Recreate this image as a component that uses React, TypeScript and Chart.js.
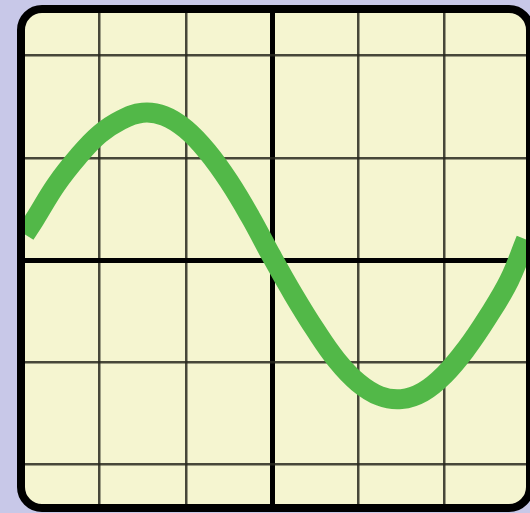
import React, { useEffect, useRef } from "react";
import { Chart, registerables } from "chart.js";

Chart.register(...registerables);

// Wave samples (grid units, center lines at 0)
const waveX = [-2.864, -2.75, -2.5, -2.25, -2.0, -1.75, -1.5, -1.25, -1.0, -0.75, -0.5, -0.25, 0, 0.25, 0.5, 0.75, 1.0, 1.25, 1.5, 1.75, 2.0, 2.25, 2.5, 2.75, 2.945];
const waveY = [0.25, 0.4, 0.74, 1.01, 1.23, 1.37, 1.44, 1.41, 1.28, 1.06, 0.77, 0.42, 0.03, -0.34, -0.68, -0.98, -1.2, -1.33, -1.36, -1.29, -1.12, -0.87, -0.56, -0.2, 0.2];

const gridTicksX = [-2, -1, 0, 1, 2];
const gridTicksY = [-2, -1, 0, 1, 2];

const X_MIN = -2.864;
const X_MAX = 2.945;
const Y_MIN = -2.386;
const Y_MAX = 2.416;

const LAVENDER = "#c8c8e8";
const CREAM = "#f5f5d0";
const GREEN = "#52b848";

function roundRect(ctx: CanvasRenderingContext2D, x: number, y: number, w: number, h: number, r: number) {
  ctx.beginPath();
  ctx.moveTo(x + r, y);
  ctx.lineTo(x + w - r, y);
  ctx.arcTo(x + w, y, x + w, y + r, r);
  ctx.lineTo(x + w, y + h - r);
  ctx.arcTo(x + w, y + h, x + w - r, y + h, r);
  ctx.lineTo(x + r, y + h);
  ctx.arcTo(x, y + h, x, y + h - r, r);
  ctx.lineTo(x, y + r);
  ctx.arcTo(x, y, x + r, y, r);
  ctx.closePath();
}

const framePlugin = {
  id: "frame",
  beforeDraw(chart: any) {
    const { ctx, chartArea: a } = chart;
    ctx.save();
    ctx.fillStyle = LAVENDER;
    ctx.fillRect(0, 0, chart.width, chart.height);
    roundRect(ctx, a.left - 4, a.top - 4, a.right - a.left + 8, a.bottom - a.top + 8, 21);
    ctx.fillStyle = CREAM;
    ctx.fill();
    ctx.restore();
  },
  afterDraw(chart: any) {
    const { ctx, chartArea: a } = chart;
    ctx.save();
    roundRect(ctx, a.left - 4, a.top - 4, a.right - a.left + 8, a.bottom - a.top + 8, 21);
    ctx.lineWidth = 8;
    ctx.strokeStyle = "#000";
    ctx.stroke();
    ctx.restore();
  },
};

export default function App() {
  const ref = useRef<HTMLCanvasElement>(null);
  useEffect(() => {
    if (!ref.current) return;
    const gridLine = (ctx: any) => (ctx.tick && ctx.tick.value === 0 ? 5 : 2.5);
    const gridColor = (ctx: any) => (ctx.tick && ctx.tick.value === 0 ? "#000000" : "rgba(40,40,30,0.85)");
    const chart = new Chart(ref.current, {
      type: "line",
      data: {
        datasets: [
          {
            data: waveX.map((x, i) => ({ x, y: waveY[i] })),
            borderColor: GREEN,
            borderWidth: 20,
            tension: 0.4,
            pointRadius: 0,
            fill: false,
            borderCapStyle: "butt",
          },
        ],
      },
      options: {
        responsive: false,
        animation: false,
        devicePixelRatio: 1,
        layout: { padding: { left: 25, top: 13, right: 4, bottom: 9 } },
        plugins: { legend: { display: false }, tooltip: { enabled: false } },
        scales: {
          x: {
            type: "linear",
            min: X_MIN,
            max: X_MAX,
            afterBuildTicks: (s: any) => {
              s.ticks = gridTicksX.map((v) => ({ value: v }));
            },
            ticks: { display: false },
            grid: { drawTicks: false, lineWidth: gridLine, color: gridColor },
            border: { display: false },
          },
          y: {
            type: "linear",
            min: Y_MIN,
            max: Y_MAX,
            afterBuildTicks: (s: any) => {
              s.ticks = gridTicksY.map((v) => ({ value: v }));
            },
            ticks: { display: false },
            grid: { drawTicks: false, lineWidth: gridLine, color: gridColor },
            border: { display: false },
          },
        },
      },
      plugins: [framePlugin],
    } as any);
    return () => chart.destroy();
  }, []);
  return (
    <div style={{ position: "fixed", left: 0, top: 0, width: 530, height: 513, overflow: "hidden", background: LAVENDER }}>
      <canvas ref={ref} width={530} height={513} style={{ display: "block" }} />
    </div>
  );
}
